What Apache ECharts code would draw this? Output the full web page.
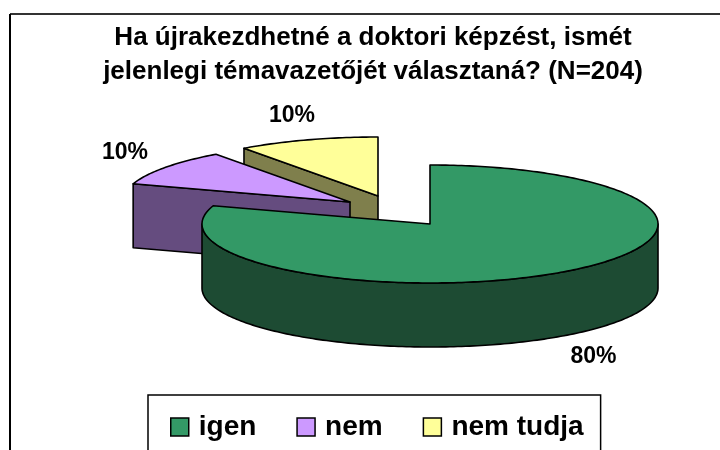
<!DOCTYPE html>
<html>
<head>
<meta charset="utf-8">
<script src="https://cdn.jsdelivr.net/npm/echarts@6/dist/echarts.min.js"></script>
<style>
  html, body { margin: 0; padding: 0; background: #fff; }
  #main { width: 720px; height: 450px; }
</style>
</head>
<body>
<div id="main"></div>
<script>
  // adatok
  var categories = ['igen', 'nem', 'nem tudja'];
  var values = [80, 10, 10];

  // stílus
  var topColors = ['#339966', '#CC99FF', '#FFFF99'];
  var sideColors = ['#1D4B33', '#654C7F', '#7F7F4C'];
  var explode = [[0, 0], [-80, -22], [-52, -28]];

  // a 3D torta geometriája
  var CX = 430, CY = 224, RX = 228, RY = 59, DEPTH = 64;

  var total = values.reduce(function (a, b) { return a + b; }, 0);

  function pt(a, ox, oy, dz) {
    var r = a * Math.PI / 180;
    return [CX + ox + RX * Math.sin(r), CY + oy - RY * Math.cos(r) + dz];
  }

  function arc(a0, a1, ox, oy, dz) {
    var pts = [];
    var n = Math.max(2, Math.ceil(a1 - a0));
    for (var k = 0; k <= n; k++) {
      pts.push(pt(a0 + (a1 - a0) * k / n, ox, oy, dz));
    }
    return pts;
  }

  function face(points, fill) {
    return {
      type: 'polygon',
      shape: { points: points },
      style: { fill: fill, stroke: '#000', lineWidth: 1.6, lineJoin: 'round' }
    };
  }

  function renderSlice(i) {
    return function (params, api) {
      var a0 = 0;
      for (var j = 0; j < i; j++) a0 += values[j] / total * 360;
      var v = api.value(0);
      var a1 = a0 + v / total * 360;
      var ox = explode[i][0], oy = explode[i][1];
      var apex = [CX + ox, CY + oy];
      var apexB = [CX + ox, CY + oy + DEPTH];
      var children = [];

      // oldallapok (csak az elöl látszók)
      if (Math.sin(a0 * Math.PI / 180) < -1e-6) {
        var p = pt(a0, ox, oy, 0), pb = pt(a0, ox, oy, DEPTH);
        children.push(face([apex, p, pb, apexB], sideColors[i]));
      }
      if (Math.sin(a1 * Math.PI / 180) > 1e-6) {
        var q = pt(a1, ox, oy, 0), qb = pt(a1, ox, oy, DEPTH);
        children.push(face([apex, q, qb, apexB], sideColors[i]));
      }
      // külső fal
      var lo = Math.max(a0, 90), hi = Math.min(a1, 270);
      if (lo < hi) {
        var wall = arc(lo, hi, ox, oy, 0).concat(arc(lo, hi, ox, oy, DEPTH).reverse());
        children.push(face(wall, sideColors[i]));
      }
      // tető
      children.push(face([apex].concat(arc(a0, a1, ox, oy, 0)), topColors[i]));

      // felirat
      var mid = (a0 + a1) / 2 * Math.PI / 180;
      var lx = apex[0] + RX * 1.22 * Math.sin(mid);
      var ly = apex[1] - RY * 1.43 * Math.cos(mid) + (Math.cos(mid) < 0 ? DEPTH : 0);
      children.push({
        type: 'text',
        style: {
          x: lx, y: ly,
          text: Math.round(v / total * 100) + '%',
          fill: '#000',
          font: 'bold 23px "Liberation Sans", Arial, sans-serif',
          align: 'center',
          verticalAlign: 'middle'
        }
      });
      return { type: 'group', children: children };
    };
  }

  var series = categories.map(function (name, i) {
    return {
      name: name,
      type: 'custom',
      coordinateSystem: 'none',
      z: 10 - i,
      itemStyle: { color: topColors[i] },
      renderItem: renderSlice(i),
      data: [[values[i]]]
    };
  });

  var chart = echarts.init(document.getElementById('main'));
  chart.setOption({
    backgroundColor: '#fff',
    animation: false,
    title: {
      text: 'Ha újrakezdhetné a doktori képzést, ismét\njelenlegi témavazetőjét választaná? (N=204)',
      left: 373,
      top: 21,
      padding: 0,
      textAlign: 'center',
      textStyle: {
        fontFamily: '"Liberation Sans", Arial, sans-serif',
        fontWeight: 'bold',
        fontSize: 26,
        lineHeight: 34,
        color: '#000'
      }
    },
    legend: {
      data: categories,
      left: 148,
      top: 395,
      padding: [18, 17, 40, 22],
      borderColor: '#000',
      borderWidth: 1.5,
      itemGap: 40,
      itemWidth: 18,
      itemHeight: 18,
      icon: 'rect',
      itemStyle: { borderColor: '#000', borderWidth: 1.5 },
      selectedMode: false,
      textStyle: {
        fontFamily: '"Liberation Sans", Arial, sans-serif',
        fontWeight: 'bold',
        fontSize: 28,
        color: '#000',
        padding: [0, 0, 0, 5]
      }
    },
    graphic: [
      { type: 'line', shape: { x1: 10, y1: 14, x2: 720, y2: 14 }, style: { stroke: '#333', lineWidth: 2 } },
      { type: 'line', shape: { x1: 10, y1: 14, x2: 10, y2: 450 }, style: { stroke: '#000', lineWidth: 2 } }
    ],
    series: series
  });
</script>
</body>
</html>
